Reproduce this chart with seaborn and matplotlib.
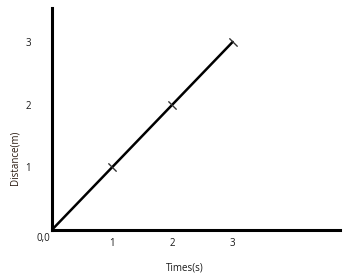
import matplotlib
matplotlib.use("Agg")
import matplotlib.pyplot as plt
import seaborn as sns
import pandas as pd

times = [0, 1, 2, 3]
distances = [0, 1, 2, 3]
x_ticks = [1, 2, 3]
y_ticks = [1, 2, 3]

sns.set_style("white")
plt.rcParams['font.family'] = ['Open Sans', 'DejaVu Sans']

fig = plt.figure(figsize=(3.48, 2.78), dpi=100)
ax = fig.add_axes([0.149, 0.173, 0.828, 0.798])

df = pd.DataFrame({"Times(s)": times, "Distance(m)": distances})
sns.lineplot(data=df, x="Times(s)", y="Distance(m)", ax=ax, color="black",
             linewidth=1.8, marker=(2, 2, 45), markersize=8,
             markeredgecolor="#333333", markeredgewidth=0.7, markevery=[1, 2, 3])

ax.set_xlim(0, 4.78)
ax.set_ylim(0, 3.54)
ax.set_xticks(x_ticks)
ax.set_yticks(y_ticks)
ax.set_xticklabels([str(t) for t in x_ticks])
ax.set_yticklabels([str(t) for t in y_ticks])
ax.tick_params(length=0, labelsize=7, colors="#1a1a1a")
ax.tick_params(axis="x", pad=6)
ax.tick_params(axis="y", pad=15)

for s in ["top", "right"]:
    ax.spines[s].set_visible(False)
for s in ["left", "bottom"]:
    ax.spines[s].set_linewidth(2.2)
    ax.spines[s].set_color("black")

ax.set_xlabel("Times(s)", fontsize=7, color="#1a1a1a")
ax.set_ylabel("Distance(m)", fontsize=7, color="#2a1a10")
ax.xaxis.set_label_coords(0.462, -0.171)
ax.yaxis.set_label_coords(-0.128, 0.324)
ax.xaxis.label.set_va("center")
ax.yaxis.label.set_va("center")
ax.annotate("0,0", xy=(0, 0), xytext=(-11, -6), textcoords="offset points",
            fontsize=7, color="#1a1a1a", ha="left", va="center")

fig.savefig("out.png", dpi=100)
